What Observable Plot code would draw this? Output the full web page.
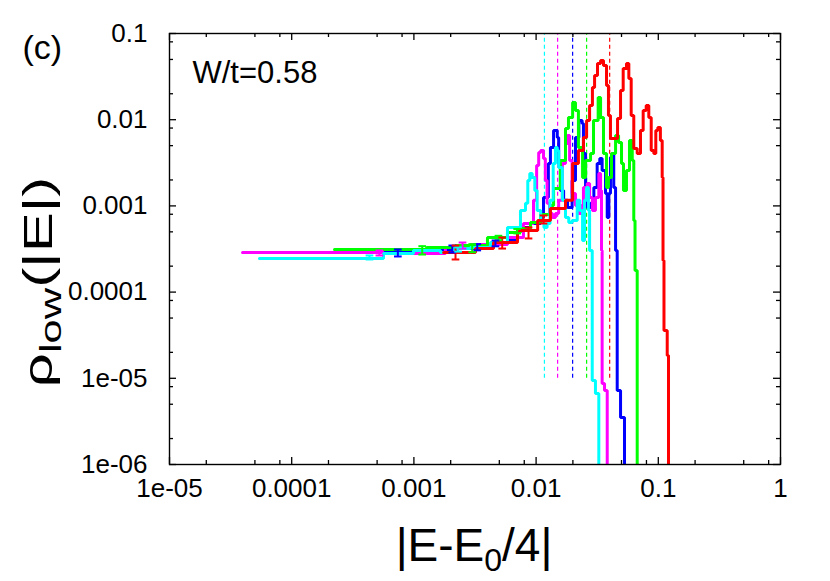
<!DOCTYPE html>
<html><head><meta charset="utf-8">
<script src="https://cdn.jsdelivr.net/npm/d3@7"></script>
<script src="https://cdn.jsdelivr.net/npm/@observablehq/plot@0.6"></script>
<style>
html,body{margin:0;padding:0;background:#fff;}
#chart{position:relative;width:830px;height:581px;}
svg{font-family:"Liberation Sans",Arial,Helvetica,sans-serif;}
</style></head><body><div id="chart"></div>
<script>
// ---- axes / ticks ----
const xTickValues = [1e-5, 1e-4, 1e-3, 1e-2, 1e-1, 1];
const xTickLabels = ["1e-05", "0.0001", "0.001", "0.01", "0.1", "1"];
const yTickValues = [1e-6, 1e-5, 1e-4, 1e-3, 1e-2, 1e-1];
const yTickLabels = ["1e-06", "1e-05", "0.0001", "0.001", "0.01", "0.1"];
const minorMultipliers = [2, 5, 8];
const xTitle = ["|E-E", "0", "/4|"];
const yTitle = ["ρ", "low", "(|E|)"];
const panelLabel = "(c)";
const annotation = "W/t=0.58";

// ---- series (histograms, step-after) ----
const seriesNames = ["blue", "magenta", "green", "cyan", "red"];
const seriesColors = {red: "#ff0000", green: "#00ff00", blue: "#0000ff", magenta: "#ff00ff", cyan: "#00ffff"};

const redX = [1.75e-3, 3.19e-3, 4.48e-3, 7.04e-3, 0.0103, 0.0131, 0.0174, 0.0199, 0.0222, 0.0244, 0.0259, 0.0274, 0.0289, 0.0301, 0.0318, 0.0337, 0.0356, 0.0377, 0.0391, 0.0406, 0.0447, 0.0464, 0.0491, 0.0516, 0.0549, 0.0574, 0.0600, 0.0630, 0.0672, 0.0715, 0.0752, 0.0796, 0.0836, 0.0875, 0.0919, 0.0954, 0.0991, 0.104, 0.1076, 0.1093, 0.1113, 0.1183, 0.1212];
const redY = [2.88e-4, 3.20e-4, 3.76e-4, 5.18e-4, 6.77e-4, 9.33e-4, 1.16e-3, 3.10e-3, 4.39e-3, 6.22e-3, 9.79e-3, 0.0146, 0.0236, 0.0326, 0.0449, 0.0486, 0.0425, 0.0249, 0.0112, 6.05e-3, 6.05e-3, 0.0103, 0.0218, 0.0393, 0.0449, 0.0301, 0.0112, 4.63e-3, 4.05e-3, 7.49e-3, 0.0128, 0.0146, 0.0106, 4.39e-3, 4.05e-3, 7.49e-3, 8.12e-3, 5.74e-3, 2.14e-3, 2.33e-4, 3.59e-5, 1.84e-5, 8e-7];

const greenX = [2.24e-4, 1.27e-3, 2.19e-3, 4.00e-3, 5.83e-3, 7.45e-3, 9.00e-3, 0.0109, 0.0131, 0.0139, 0.0158, 0.0174, 0.0184, 0.0199, 0.0210, 0.0222, 0.0240, 0.0254, 0.0279, 0.0295, 0.0322, 0.0337, 0.0356, 0.0377, 0.0391, 0.0414, 0.0447, 0.0473, 0.0500, 0.0519, 0.0549, 0.0581, 0.0612, 0.0630, 0.0645, 0.0672];
const greenY = [3.12e-4, 3.29e-4, 3.47e-4, 4.30e-4, 4.91e-4, 5.47e-4, 6.42e-4, 7.95e-4, 1.01e-3, 1.59e-3, 3.36e-3, 7.91e-3, 0.0106, 0.0158, 0.0128, 4.76e-3, 2.14e-3, 3.36e-3, 4.05e-3, 9.79e-3, 0.0181, 0.0106, 4.05e-3, 1.63e-3, 2.14e-3, 4.05e-3, 6.56e-3, 5.44e-3, 3.10e-3, 1.51e-3, 2.57e-3, 5.74e-3, 3.36e-3, 6.77e-4, 1.78e-4, 8e-7];

const blueX = [9.24e-5, 5.64e-4, 2.19e-3, 3.07e-3, 4.48e-3, 5.83e-3, 7.04e-3, 9.00e-3, 0.0109, 0.0115, 0.0126, 0.0131, 0.0139, 0.0149, 0.0153, 0.0158, 0.0168, 0.0181, 0.0197, 0.0210, 0.0224, 0.0238, 0.0244, 0.0254, 0.0262, 0.0279, 0.0297, 0.0316, 0.0332, 0.0347, 0.0370, 0.0382, 0.0394, 0.0406, 0.0420, 0.0432, 0.0447, 0.0461, 0.0491, 0.0529];
const blueY = [2.88e-4, 3.04e-4, 3.20e-4, 3.29e-4, 3.66e-4, 3.97e-4, 5.62e-4, 6.25e-4, 7.33e-4, 1.25e-3, 3.10e-3, 4.76e-3, 7.49e-3, 6.22e-3, 3.10e-3, 1.51e-3, 1.16e-3, 9.58e-4, 1.97e-3, 6.22e-3, 9.79e-3, 9.03e-3, 4.05e-3, 1.63e-3, 9.58e-4, 1.07e-3, 1.63e-3, 3.10e-3, 3.55e-3, 2.57e-3, 1.39e-3, 7.33e-4, 1.39e-3, 3.64e-3, 4.05e-3, 1.63e-3, 3.04e-4, 7.22e-6, 3.51e-6, 8e-7];

const magentaX = [3.96e-5, 5.64e-4, 1.81e-3, 2.90e-3, 5.83e-3, 7.88e-3, 9.52e-3, 0.0101, 0.0105, 0.0109, 0.0115, 0.0119, 0.0123, 0.0129, 0.0136, 0.0144, 0.0153, 0.0164, 0.0174, 0.0181, 0.0188, 0.0197, 0.0210, 0.0222, 0.0235, 0.0244, 0.0262, 0.0274, 0.0289, 0.0306, 0.0326, 0.0337, 0.0343, 0.0347, 0.0363, 0.0382];
const magentaY = [2.88e-4, 2.80e-4, 3.29e-4, 3.56e-4, 4.30e-4, 6.25e-4, 1.16e-3, 2.94e-3, 4.16e-3, 4.39e-3, 3.55e-3, 1.97e-3, 1.07e-3, 8.16e-4, 7.33e-4, 8.16e-4, 1.16e-3, 3.10e-3, 5.30e-3, 6.56e-3, 3.36e-3, 1.39e-3, 1.01e-3, 8.16e-4, 1.01e-3, 1.63e-3, 1.82e-3, 1.25e-3, 8.84e-4, 1.25e-3, 2.38e-3, 1.51e-3, 3.04e-4, 8.70e-6, 7.22e-6, 8e-7];

const cyanX = [5.45e-5, 5.64e-4, 9.92e-4, 1.65e-3, 2.11e-3, 2.90e-3, 4.23e-3, 5.83e-3, 7.45e-3, 8.19e-3, 8.55e-3, 8.88e-3, 9.29e-3, 9.76e-3, 0.0102, 0.0109, 0.0116, 0.0123, 0.0130, 0.0138, 0.0144, 0.0149, 0.0153, 0.0164, 0.0174, 0.0185, 0.0197, 0.0217, 0.0228, 0.0240, 0.0249, 0.0259, 0.0268, 0.0274, 0.0288, 0.0306, 0.0326];
const cyanY = [2.45e-4, 2.80e-4, 3.04e-4, 2.88e-4, 3.20e-4, 3.29e-4, 3.76e-4, 5.62e-4, 8.84e-4, 1.07e-3, 1.97e-3, 2.38e-3, 2.14e-3, 1.51e-3, 8.84e-4, 6.77e-4, 5.62e-4, 6.25e-4, 1.16e-3, 3.10e-3, 4.76e-3, 4.39e-3, 2.79e-3, 1.16e-3, 7.33e-4, 6.42e-4, 6.77e-4, 1.16e-3, 8.84e-4, 3.97e-4, 1.16e-3, 1.63e-3, 8.84e-4, 3.04e-4, 9.43e-6, 6.66e-6, 8e-7];

// ---- error bars ----
const redErrX = [2.19e-3, 5.28e-3, 8.67e-3, 0.0115];
const redErrLo = [2.39e-4, 3.20e-4, 4.19e-4, 6.25e-4];
const redErrHi = [3.47e-4, 4.30e-4, 5.62e-4, 7.74e-4];
const greenErrX = [1.17e-3, 3.0e-3, 4.92e-3, 7.0e-3];
const greenErrLo = [2.73e-4, 2.9e-4, 4.0e-4, 4.8e-4];
const greenErrHi = [3.41e-4, 3.6e-4, 4.5e-4, 5.4e-4];
const blueErrX = [7.39e-4, 2.06e-3, 3.3e-3, 4.65e-3];
const blueErrLo = [2.59e-4, 2.88e-4, 3.05e-4, 3.4e-4];
const blueErrHi = [3.12e-4, 3.47e-4, 3.6e-4, 3.97e-4];
const magentaErrX = [5.22e-4, 2.50e-3];
const magentaErrLo = [2.66e-4, 3.2e-4];
const magentaErrHi = [3.04e-4, 3.76e-4];
const cyanErrX = [4.33e-4, 2.3e-3];
const cyanErrLo = [2.39e-4, 2.95e-4];
const cyanErrHi = [2.66e-4, 3.3e-4];

// ---- dashed reference lines ----
const dashX = [0.0117, 0.0150, 0.0199, 0.0259, 0.0400];
const dashSeries = ["cyan", "magenta", "blue", "green", "red"];
const dashY1 = 1e-5, dashY2 = 0.1;

// ---- build tables ----
const seriesData = {
  red: [redX, redY, redErrX, redErrLo, redErrHi],
  green: [greenX, greenY, greenErrX, greenErrLo, greenErrHi],
  blue: [blueX, blueY, blueErrX, blueErrLo, blueErrHi],
  magenta: [magentaX, magentaY, magentaErrX, magentaErrLo, magentaErrHi],
  cyan: [cyanX, cyanY, cyanErrX, cyanErrLo, cyanErrHi]
};
const lines = [], errs = [];
for (const s of seriesNames) {
  const [X, Y, EX, ELo, EHi] = seriesData[s];
  X.forEach((x, i) => lines.push({s, x, y: Y[i]}));
  EX.forEach((x, i) => errs.push({s, x, lo: ELo[i], hi: EHi[i]}));
}
const dashes = dashX.map((x, i) => ({x, s: dashSeries[i]}));
const xMinor = xTickValues.slice(0, -1).flatMap(v => minorMultipliers.map(m => v * m));
const yMinor = yTickValues.slice(0, -1).flatMap(v => minorMultipliers.map(m => v * m));
const capF = 1.075;
const col = d => seriesColors[d.s];

const W = 830, H = 581, ML = 169, MR = 50, MT = 33, MB = 117;
const FW = W - ML - MR, FH = H - MT - MB;
const MAJ = 7, MIN = 4;
const tk = {stroke: "#000", strokeWidth: 1.3};

const chart = Plot.plot({
  width: W, height: H,
  marginLeft: ML, marginRight: MR, marginTop: MT, marginBottom: MB,
  x: {type: "log", domain: [1e-5, 1]},
  y: {type: "log", domain: [1e-6, 0.1]},
  style: {fontFamily: '"Liberation Sans", Arial, Helvetica, sans-serif', background: "#fff", color: "#000"},
  marks: [
    Plot.ruleX(dashes, {x: "x", y1: () => dashY1, y2: () => dashY2, stroke: col, strokeWidth: 1.2, strokeDasharray: "4,3"}),
    Plot.line(lines, {x: "x", y: "y", z: "s", stroke: col, strokeWidth: 3, curve: "step-after", clip: true, strokeLinejoin: "miter"}),
    Plot.ruleX(errs, {x: "x", y1: "lo", y2: "hi", stroke: col, strokeWidth: 2}),
    Plot.link(errs, {x1: d => d.x / capF, x2: d => d.x * capF, y1: "lo", y2: "lo", stroke: col, strokeWidth: 2}),
    Plot.link(errs, {x1: d => d.x / capF, x2: d => d.x * capF, y1: "hi", y2: "hi", stroke: col, strokeWidth: 2}),
    // inward major / minor ticks on all four sides
    Plot.tickX(xTickValues, {x: d => d, insetTop: FH - MAJ, ...tk}),
    Plot.tickX(xTickValues, {x: d => d, insetBottom: FH - MAJ, ...tk}),
    Plot.tickX(xMinor, {x: d => d, insetTop: FH - MIN, ...tk}),
    Plot.tickX(xMinor, {x: d => d, insetBottom: FH - MIN, ...tk}),
    Plot.tickY(yTickValues, {y: d => d, insetRight: FW - MAJ, ...tk}),
    Plot.tickY(yTickValues, {y: d => d, insetLeft: FW - MAJ, ...tk}),
    Plot.tickY(yMinor, {y: d => d, insetRight: FW - MIN, ...tk}),
    Plot.tickY(yMinor, {y: d => d, insetLeft: FW - MIN, ...tk}),
    Plot.frame({stroke: "#000", strokeWidth: 1.4}),
    // tick labels
    Plot.axisX({anchor: "bottom", ticks: xTickValues, tickSize: 0, tickPadding: 14, fontSize: 26, label: null,
      tickFormat: d => xTickLabels[xTickValues.indexOf(d)]}),
    Plot.axisY({anchor: "left", ticks: yTickValues, tickSize: 0, tickPadding: 22, fontSize: 26, label: null,
      tickFormat: d => yTickLabels[yTickValues.indexOf(d)]}),
    Plot.text([annotation], {frameAnchor: "top-left", dx: 23, dy: 27, text: d => d, fontSize: 31, textAnchor: "start"}),
    Plot.text([panelLabel], {frameAnchor: "top-left", dx: -147, dy: 1, text: d => d, fontSize: 34, textAnchor: "start"})
  ]
});
document.getElementById("chart").appendChild(chart);

const svg = d3.select(chart);
const yt = svg.append("text")
  .attr("transform", "translate(52,282) rotate(-90) scale(1.5,1)")
  .attr("text-anchor", "middle").attr("font-size", 40).attr("fill", "#000");
yt.append("tspan").text(yTitle[0]);
yt.append("tspan").attr("font-size", 29).attr("dy", 9).text(yTitle[1]);
yt.append("tspan").attr("dy", -9).text(yTitle[2]);

const xt = svg.append("text")
  .attr("x", 474).attr("y", 561)
  .attr("text-anchor", "middle").attr("font-size", 46).attr("fill", "#000");
xt.append("tspan").text(xTitle[0]);
xt.append("tspan").attr("font-size", 32).attr("dy", 10).text(xTitle[1]);
xt.append("tspan").attr("dy", -10).text(xTitle[2]);
</script></body></html>
